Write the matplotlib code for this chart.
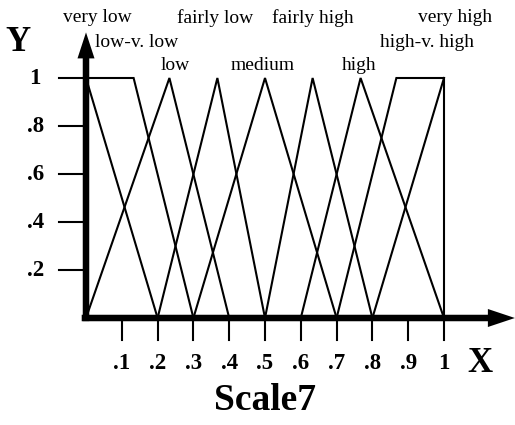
import matplotlib
matplotlib.use('Agg')
import matplotlib.pyplot as plt
from matplotlib.patches import FancyArrow

# membership functions of the 9-term scale
very_low_x = [0, 0.133, 0.3]
very_low_y = [1, 1, 0]
low_vlow_x = [0, 0.2]
low_vlow_y = [1, 0]
low_x = [0, 0.233, 0.4]
fairly_low_x = [0.2, 0.367, 0.5]
medium_x = [0.3, 0.5, 0.7]
fairly_high_x = [0.5, 0.633, 0.8]
high_x = [0.6, 0.767, 1.0]
tri_y = [0, 1, 0]
high_vhigh_x = [0.8, 1.0]
high_vhigh_y = [0, 1]
very_high_x = [0.7, 0.867, 1.0, 1.0]
very_high_y = [0, 1, 1, 0]

term_labels = ['very low', 'low-v. low', 'low', 'fairly low', 'medium',
               'fairly high', 'high', 'high-v. high', 'very high']
label_x = [0.031, 0.142, 0.249, 0.36, 0.494, 0.634, 0.763, 0.953, 1.031]
label_row = [0, 1, 2, 0, 2, 0, 2, 1, 0]
row_y = [1.25, 1.146, 1.054]

x_ticks = [0.1, 0.2, 0.3, 0.4, 0.5, 0.6, 0.7, 0.8, 0.9, 1.0]
x_tick_labels = ['.1', '.2', '.3', '.4', '.5', '.6', '.7', '.8', '.9', '1']
y_ticks = [0.2, 0.4, 0.6, 0.8, 1.0]
y_tick_labels = ['.2', '.4', '.6', '.8', '1']

serif = ['Liberation Serif', 'DejaVu Serif']

fig = plt.figure(figsize=(5.15, 4.25), dpi=100)
ax = fig.add_axes([0, 0, 1, 1])
# data 0..1 -> px 86..444 horizontally, px 318..78 vertically
ax.set_xlim(-86 / 358, (515 - 86) / 358)
ax.set_ylim(-107 / 240, (425 - 107) / 240)
ax.axis('off')

lw = 1.5
for xs, ys in [(very_low_x, very_low_y), (low_vlow_x, low_vlow_y),
               (low_x, tri_y), (fairly_low_x, tri_y), (medium_x, tri_y),
               (fairly_high_x, tri_y), (high_x, tri_y),
               (high_vhigh_x, high_vhigh_y), (very_high_x, very_high_y)]:
    ax.plot(xs, ys, color='black', lw=lw, solid_joinstyle='miter')

# tick marks
for t in y_ticks:
    ax.plot([-0.075, 0], [t, t], color='black', lw=lw)
for t in x_ticks:
    ax.plot([t, t], [0, -0.092], color='black', lw=lw)

# thick axes with arrow heads
ax.add_patch(FancyArrow(0, -0.013, 0, 1.19 + 0.013, width=6.5 / 358,
                        head_width=17 / 358, head_length=26 / 240,
                        length_includes_head=True, color='black', lw=0))
ax.add_patch(FancyArrow(-0.012, 0, 1.198 + 0.012, 0, width=6.5 / 240,
                        head_width=18 / 240, head_length=27 / 358,
                        length_includes_head=True, color='black', lw=0))

for t, s in zip(y_ticks, y_tick_labels):
    ax.text(-0.142, t, s, ha='center', va='center', fontsize=16.5,
            fontweight='bold', family=serif)
for t, s in zip(x_ticks, x_tick_labels):
    ax.text(t, -0.19, s, ha='center', va='center', fontsize=16.5,
            fontweight='bold', family=serif)

for s, x, r in zip(term_labels, label_x, label_row):
    ax.text(x, row_y[r], s, ha='center', va='center', fontsize=14,
            family=serif)

ax.text(-0.19, 1.146, 'Y', ha='center', va='center', fontsize=25,
        fontweight='bold', family=serif)
ax.text(1.1, -0.19, 'X', ha='center', va='center', fontsize=25,
        fontweight='bold', family=serif)
ax.text(0.5, -0.345, 'Scale7', ha='center', va='center', fontsize=27,
        fontweight='bold', family=serif)

fig.savefig('out.png', dpi=100)
